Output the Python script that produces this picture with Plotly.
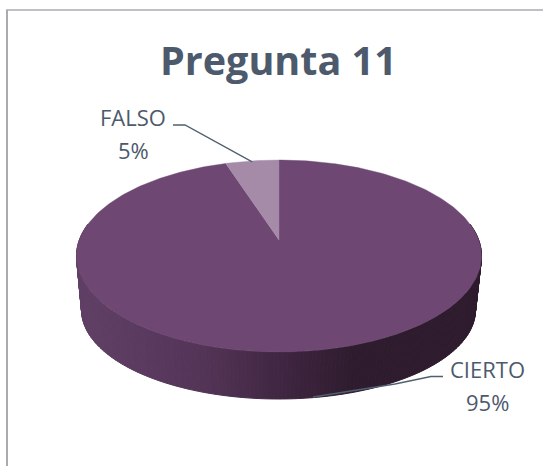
import math
import plotly.graph_objects as go

categories = ["CIERTO", "FALSO"]
values = [95, 5]
percent_labels = ["95%", "5%"]
slice_colors = ["#6e4873", "#a58ba8"]
title_text = "Pregunta 11"

W, H = 543, 466
K = 1 / 6  # perspective strength of the tilted disc
TOP = dict(cx=279, cy=240, a=199.7, b=93.3)
BOT = dict(cx=278.5, cy=295.2, a=194.2, b=86.5)
TEXT = "#4c5a6c"
EDGE = "#a9abb0"


def project(p, deg):
    t = math.radians(deg)
    d = 1 + K * math.cos(t)
    return p["cx"] + p["a"] * math.sin(t) / d, p["cy"] - p["b"] * math.cos(t) / d


def wall_color(x):
    stops = [(80, (97, 64, 102)), (200, (84, 53, 88)), (300, (60, 35, 61)),
             (350, (47, 29, 47)), (480, (46, 28, 46))]
    for (x0, c0), (x1, c1) in zip(stops, stops[1:]):
        if x <= x1:
            f = max(0, (x - x0) / (x1 - x0))
            return "rgb(%d,%d,%d)" % tuple(c0[i] + (c1[i] - c0[i]) * f for i in range(3))
    return "rgb(46,28,46)"


fig = go.Figure()


def poly(xs, ys, color, line=0.8):
    fig.add_trace(go.Scatter(x=xs, y=ys, mode="lines", fill="toself", fillcolor=color,
                             line=dict(color=color, width=line), hoverinfo="skip",
                             showlegend=False))


# side wall, one facet per degree of the front half of the rim
for deg in range(80, 280):
    pts = [project(TOP, deg), project(TOP, deg + 1), project(BOT, deg + 1), project(BOT, deg)]
    xs = [p[0] for p in pts] + [pts[0][0]]
    ys = [p[1] for p in pts] + [pts[0][1]]
    poly(xs, ys, wall_color(sum(xs[:4]) / 4), 1.0)

# top face, slices from the values
total = sum(values)
start = 0.0
mid = {}
for name, val, col in zip(categories, values, slice_colors):
    sweep = 360 * val / total
    steps = max(8, int(sweep))
    rim = [project(TOP, start + sweep * i / steps) for i in range(steps + 1)]
    xs = [TOP["cx"]] + [p[0] for p in rim] + [TOP["cx"]]
    ys = [TOP["cy"]] + [p[1] for p in rim] + [TOP["cy"]]
    poly(xs, ys, col, 0.4)
    mid[name] = start + sweep / 2
    start += sweep

# leader lines
fx, fy = project(TOP, mid["FALSO"])
fig.add_trace(go.Scatter(x=[173, 185, fx], y=[125, 125, fy + 1], mode="lines",
                         line=dict(color="#4f6070", width=1.3), hoverinfo="skip", showlegend=False))
fig.add_trace(go.Scatter(x=[443, 431, 395, 313], y=[376.5, 376.5, 384, 397], mode="lines",
                         line=dict(color="#4f6070", width=1.3), hoverinfo="skip", showlegend=False))

fig.add_annotation(x=278.5, y=60, text="<b>%s</b>" % title_text, showarrow=False,
                   font=dict(family="Open Sans", size=39.5, color=TEXT))
label_font = dict(family="Open Sans", size=22, color=TEXT)
fig.add_annotation(x=133, y=117, text=categories[1], showarrow=False, font=label_font)
fig.add_annotation(x=133, y=150, text=percent_labels[1], showarrow=False, font=label_font)
fig.add_annotation(x=487, y=369, text=categories[0], showarrow=False, font=label_font)
fig.add_annotation(x=487, y=402, text=percent_labels[0], showarrow=False, font=label_font)

# chart frame: top and left edges are the only ones inside the crop
fig.add_shape(type="line", x0=6, x1=W, y0=10, y1=10, line=dict(color=EDGE, width=1.5))
fig.add_shape(type="line", x0=7, x1=7, y0=10, y1=H, line=dict(color=EDGE, width=2))

fig.update_layout(width=W, height=H, margin=dict(l=0, r=0, t=0, b=0),
                  paper_bgcolor="white", plot_bgcolor="white", showlegend=False,
                  xaxis=dict(range=[0, W], visible=False, fixedrange=True),
                  yaxis=dict(range=[H, 0], visible=False, fixedrange=True))
fig.write_html("out.html", config={"displayModeBar": False},
               post_script="document.body.style.margin='0';document.body.style.overflow='hidden';")
